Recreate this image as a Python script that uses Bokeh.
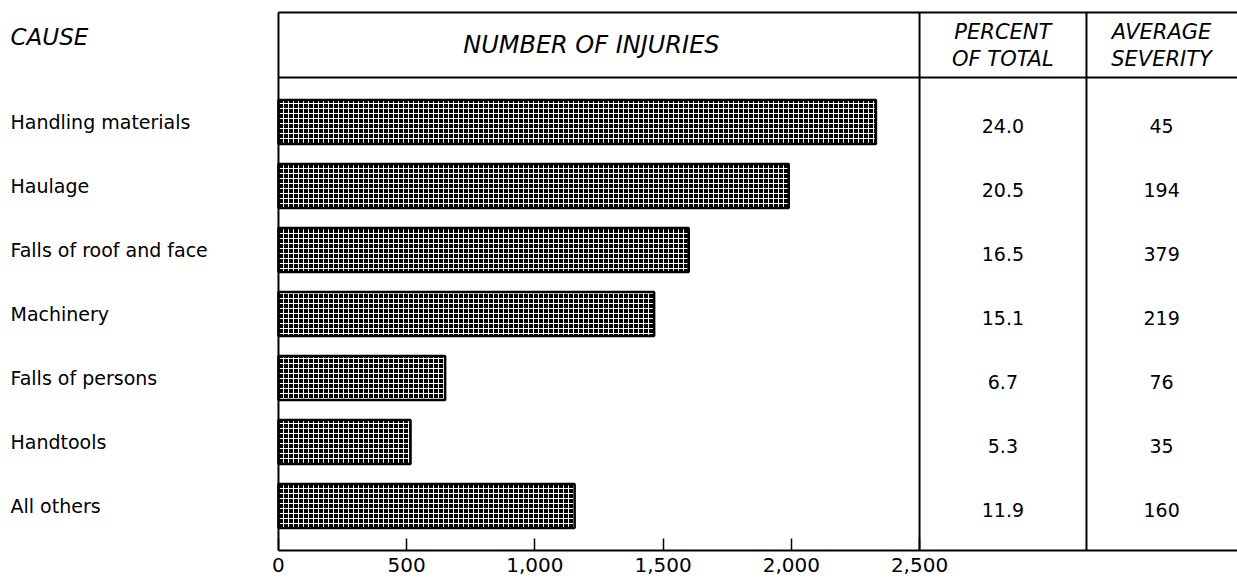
from bokeh.plotting import figure
from bokeh.models import Range1d, LinearAxis, FixedTicker, NumeralTickFormatter, ColumnDataSource
from bokeh.core.properties import value
from bokeh.embed import file_html
from bokeh.resources import INLINE

causes = ["Handling materials", "Haulage", "Falls of roof and face", "Machinery",
          "Falls of persons", "Handtools", "All others"]
injuries = [2330, 1990, 1600, 1465, 650, 515, 1155]
percent = ["24.0", "20.5", "16.5", "15.1", "6.7", "5.3", "11.9"]
severity = ["45", "194", "379", "219", "76", "35", "160"]
x_ticks = [0, 500, 1000, 1500, 2000, 2500]

rows = list(range(len(causes)))
src = ColumnDataSource(dict(cause=causes, inj=injuries, pct=percent, sev=severity, row=rows))

FONT = "DejaVu Sans"
X_MIN, X_MAX = -1084, 3740
Y_TOP, Y_BOT = -1.898, 6.695
HDR_TOP, HDR_BOT = -1.711, -0.695
COL_SEP = 3151
PCT_X, SEV_X = 2825, 3444
LABEL_X = -1045

p = figure(width=1237, height=583, output_backend="svg", toolbar_location=None,
           x_range=Range1d(X_MIN, X_MAX), y_range=Range1d(Y_BOT, Y_TOP),
           min_border_left=0, min_border_right=0, min_border_top=0, min_border_bottom=33,
           x_axis_location=None, y_axis_location=None)
p.outline_line_color = None
p.xgrid.visible = False
p.ygrid.visible = False

ax = LinearAxis(ticker=FixedTicker(ticks=x_ticks), formatter=NumeralTickFormatter(format="0,0"),
                bounds=(0, X_MAX), major_tick_in=12, major_tick_out=0,
                minor_tick_line_color=None, axis_line_width=2, major_tick_line_width=1.5,
                major_label_text_font_size="20px", major_label_text_font=FONT,
                major_label_text_color="black", axis_line_color="black",
                major_label_standoff=7)
p.add_layout(ax, "below")

# bars
p.hbar(y="row", left=0, right="inj", height=0.69, source=src,
       fill_color="black", hatch_pattern="+", hatch_color="white",
       hatch_scale=5, hatch_weight=1, line_color="black", line_width=2.5)

# table frame lines
p.segment(x0=[0, 0], y0=[HDR_TOP, HDR_BOT], x1=[X_MAX, X_MAX], y1=[HDR_TOP, HDR_BOT],
          line_color="black", line_width=2)
p.segment(x0=[0, 2500, COL_SEP], y0=[HDR_TOP] * 3, x1=[0, 2500, COL_SEP], y1=[Y_BOT] * 3,
          line_color="black", line_width=2)

# headers
hdr = dict(text_font=value(FONT), text_font_style="italic",
           text_color="black", text_baseline="middle")
p.text(x=[LABEL_X], y=[-1.32], text=["CAUSE"], text_align="left", text_font_size="23px", **hdr)
p.text(x=[1250], y=[-1.21], text=["NUMBER  OF  INJURIES"], text_align="center",
       text_font_size="24px", **hdr)
p.text(x=[PCT_X, PCT_X, SEV_X, SEV_X], y=[-1.40, -0.99, -1.40, -0.99],
       text=["PERCENT", "OF TOTAL", "AVERAGE", "SEVERITY"], text_align="center",
       text_font_size="21px", **hdr)

# row labels and values
body = dict(text_font=value(FONT), text_color="black", text_baseline="middle", source=src)
p.text(x=LABEL_X, y="row", text="cause", text_align="left", text_font_size="19px", **body)
p.text(x=PCT_X, y="row", text="pct", text_align="center", y_offset=4, text_font_size="19px", **body)
p.text(x=SEV_X, y="row", text="sev", text_align="center", y_offset=4, text_font_size="19px", **body)

open("out.html", "w").write(file_html(p, INLINE))
